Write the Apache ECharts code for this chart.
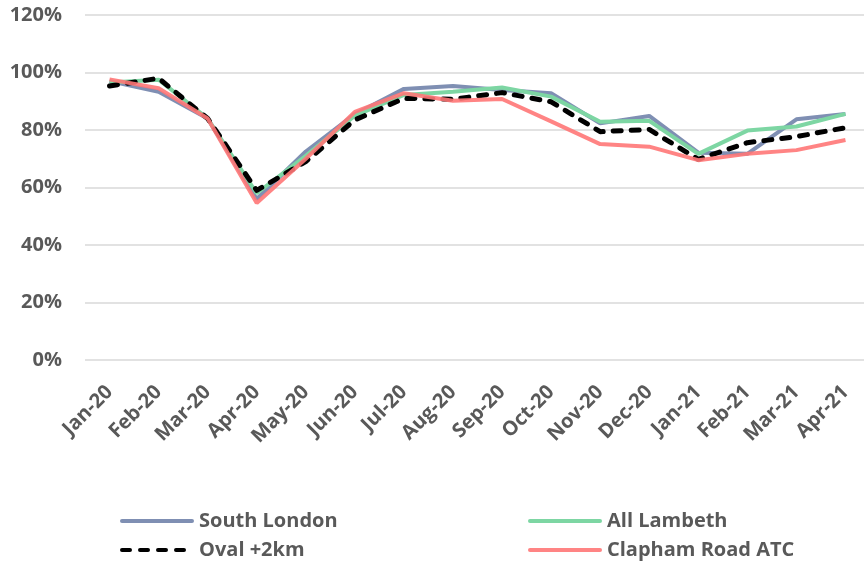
<!DOCTYPE html>
<html>
<head>
<meta charset="utf-8">
<script src="https://cdn.jsdelivr.net/npm/echarts@6/dist/echarts.min.js"></script>
<style>html,body{margin:0;padding:0;background:#fff}#c{width:864px;height:562px}</style>
</head>
<body>
<div id="c"></div>
<script>
const categories = ['Jan-20','Feb-20','Mar-20','Apr-20','May-20','Jun-20','Jul-20','Aug-20','Sep-20','Oct-20','Nov-20','Dec-20','Jan-21','Feb-21','Mar-21','Apr-21'];
const southLondon = [97, 93.3, 84, 56, 72.5, 85.5, 94.3, 95.3, 93.9, 92.8, 82.3, 84.9, 72.1, 71.7, 83.7, 85.6];
const allLambeth = [96.5, 97.5, 84, 58, 71, 85, 92.2, 93.3, 94.8, 91.6, 82.9, 83.2, 71.7, 79.8, 81.2, 85.6];
const oval2km = [95.3, 98, 84, 59, 69, 83.5, 91, 90.7, 93, 89.8, 79.4, 80.2, 69.8, 75.6, 77.7, 80.8];
const claphamRoad = [97.6, 94.5, 84, 54.6, 70, 86.3, 92.8, 90.2, 90.8, 83, 75.1, 74.2, 69.5, 71.7, 73, 76.5];
const yTicks = [0, 20, 40, 60, 80, 100, 120];

const FONT = '"Open Sans", "Liberation Sans", sans-serif';
const TXT = '#595959';
const chart = echarts.init(document.getElementById('c'), null, {renderer: 'canvas'});

function legendAt(name, left, top) {
  return {
    data: [name], left: left, top: top, padding: 0,
    itemWidth: 70, itemHeight: 20, orient: 'horizontal',
    itemStyle: {opacity: 0},
    lineStyle: {width: 4, cap: 'round'},
    textStyle: {color: TXT, fontFamily: FONT, fontWeight: 'bold', fontSize: 20, padding: [0,0,0,2]}
  };
}

chart.setOption({
  animation: false,
  backgroundColor: '#fff',
  grid: {left: 85, top: 15, width: 785, bottom: 202, containLabel: false, outerBoundsMode: 'none'},
  legend: [
    legendAt('South London', 120, 511),
    legendAt('All Lambeth', 528, 511),
    legendAt('Oval +2km', 120, 540),
    legendAt('Clapham Road ATC', 528, 540)
  ],
  xAxis: {
    type: 'category', data: categories, boundaryGap: true,
    axisLine: {show: false}, axisTick: {show: false},
    axisLabel: {rotate: 45, margin: 29, color: TXT, fontFamily: FONT, fontWeight: 'bold', fontSize: 20, interval: 0}
  },
  yAxis: {
    type: 'value', min: yTicks[0], max: yTicks[yTicks.length-1], interval: 20,
    axisLine: {show: false}, axisTick: {show: false},
    splitLine: {lineStyle: {color: '#d9d9d9', width: 1.5}},
    axisLabel: {formatter: '{value}%', margin: 23, color: TXT, fontFamily: FONT, fontWeight: 'bold', fontSize: 20}
  },
  series: [
    {name: 'South London', type: 'line', data: southLondon, symbol: 'none', z: 2,
     color: '#7f8fb3', lineStyle: {color: '#7f8fb3', width: 4}},
    {name: 'All Lambeth', type: 'line', data: allLambeth, symbol: 'none', z: 3,
     color: '#7dd6a3', lineStyle: {color: '#7dd6a3', width: 4}},
    {name: 'Oval +2km', type: 'line', data: oval2km, symbol: 'none', z: 4,
     color: '#000000', lineStyle: {color: '#000000', width: 5, type: [8, 10], cap: 'round', join: 'round'}},
    {name: 'Clapham Road ATC', type: 'line', data: claphamRoad, symbol: 'none', z: 5,
     color: '#ff7777', lineStyle: {color: '#ff7777', width: 4, opacity: 0.9}}
  ]
});
</script>
</body>
</html>
